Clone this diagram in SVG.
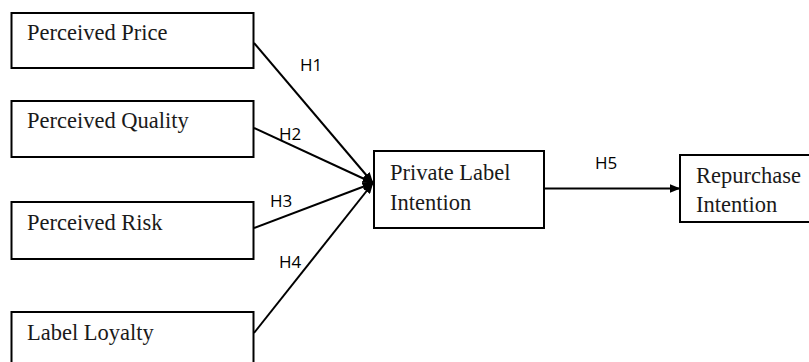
<svg xmlns="http://www.w3.org/2000/svg" width="809" height="362" viewBox="0 0 809 362">
  <style>
    .box { fill: #ffffff; stroke: #000000; stroke-width: 2; }
    .lbl { font-family: "Liberation Serif", "Times New Roman", serif; font-size: 22.5px; fill: #1a1a1a; }
    .hyp { font-family: "Open Sans", "Liberation Sans", sans-serif; font-size: 17px; fill: #000000; }
    .edge { stroke: #000000; stroke-width: 2; fill: none; marker-end: url(#arrow); }
  </style>
  <defs>
    <marker id="arrow" viewBox="0 0 11 9" refX="10.5" refY="4.5" markerWidth="11" markerHeight="9" orient="auto" markerUnits="userSpaceOnUse">
      <path d="M0,0 L11,4.5 L0,9 Z" fill="#000000"/>
    </marker>
  </defs>
  <rect width="809" height="362" fill="#ffffff"/>

  <g id="perceived-price">
    <rect class="box" x="11.5" y="13" width="242" height="55"/>
    <text class="lbl" x="27" y="40">Perceived Price</text>
  </g>
  <g id="perceived-quality">
    <rect class="box" x="11.5" y="101" width="242" height="56"/>
    <text class="lbl" x="27" y="128">Perceived Quality</text>
  </g>
  <g id="perceived-risk">
    <rect class="box" x="11.5" y="202" width="242" height="57"/>
    <text class="lbl" x="27" y="230">Perceived Risk</text>
  </g>
  <g id="label-loyalty">
    <rect class="box" x="11.5" y="312" width="242" height="57"/>
    <text class="lbl" x="27" y="340">Label Loyalty</text>
  </g>
  <g id="private-label-intention">
    <rect class="box" x="374" y="151" width="170" height="77"/>
    <text class="lbl" x="390" y="180">Private Label</text>
    <text class="lbl" x="390" y="210">Intention</text>
  </g>
  <g id="repurchase-intention">
    <rect class="box" x="680" y="155" width="140" height="67"/>
    <text class="lbl" x="696" y="183">Repurchase</text>
    <text class="lbl" x="696" y="212">Intention</text>
  </g>

  <g id="connectors">
    <line class="edge" x1="254" y1="43" x2="373" y2="183"/>
    <line class="edge" x1="254" y1="128" x2="373" y2="183"/>
    <line class="edge" x1="254" y1="228" x2="373" y2="183"/>
    <line class="edge" x1="254" y1="333" x2="373" y2="183"/>
    <line class="edge" x1="544" y1="188.5" x2="680" y2="188.5"/>
    <text class="hyp" x="300" y="71">H1</text>
    <text class="hyp" x="279" y="140">H2</text>
    <text class="hyp" x="270" y="207">H3</text>
    <text class="hyp" x="279" y="268">H4</text>
    <text class="hyp" x="595" y="169">H5</text>
  </g>
</svg>
